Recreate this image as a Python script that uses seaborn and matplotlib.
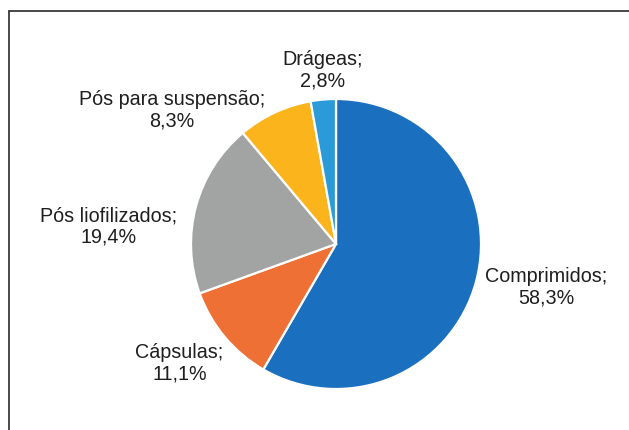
import matplotlib
matplotlib.use("Agg")
import numpy as np
import seaborn as sns
import matplotlib.pyplot as plt
from matplotlib.lines import Line2D

categorias = ["Comprimidos", "Cápsulas", "Pós liofilizados", "Pós para suspensão", "Drágeas"]
percentuais = [58.3, 11.1, 19.4, 8.3, 2.8]
cores = ["#1B6FBF", "#EE7034", "#A2A4A4", "#FCB41C", "#2A9BD8"]

# posição dos rótulos (em raios, relativo ao centro da pizza)
rotulo_pos = [(1.45, -0.30), (-1.08, -0.82), (-1.57, 0.12), (-1.13, 0.92), (-0.09, 1.20)]

sns.set_theme(style="white")
plt.rcParams["font.family"] = ["Liberation Sans", "DejaVu Sans"]

W, H = 629, 430
fig = plt.figure(figsize=(W / 100, H / 100), dpi=100)
ax = fig.add_axes([0, 0, 1, 1])

cx, cy, r = 336, H - 244, 145
ax.pie(percentuais, colors=cores, startangle=90, counterclock=False,
       center=(cx, cy), radius=r,
       wedgeprops={"edgecolor": "white", "linewidth": 1.6})
ax.set_xlim(0, W)
ax.set_ylim(0, H)
ax.set_aspect("auto")
ax.axis("off")

for nome, val, (dx, dy) in zip(categorias, percentuais, rotulo_pos):
    txt = f"{nome};\n{val:.1f}%".replace(".", ",")
    ax.text(cx + dx * r, cy + dy * r, txt, ha="center", va="center",
            multialignment="center", fontsize=14.2, color="#1e1e1e",
            linespacing=1.15)

# moldura (só esquerda e topo visíveis)
fig.add_artist(Line2D([9 / W, 9 / W], [0, 1 - 11 / H], color="#3a3a3a", lw=1.3))
fig.add_artist(Line2D([9 / W, 1], [1 - 11 / H, 1 - 11 / H], color="#3a3a3a", lw=1.3))

fig.savefig("out.png", dpi=100)
